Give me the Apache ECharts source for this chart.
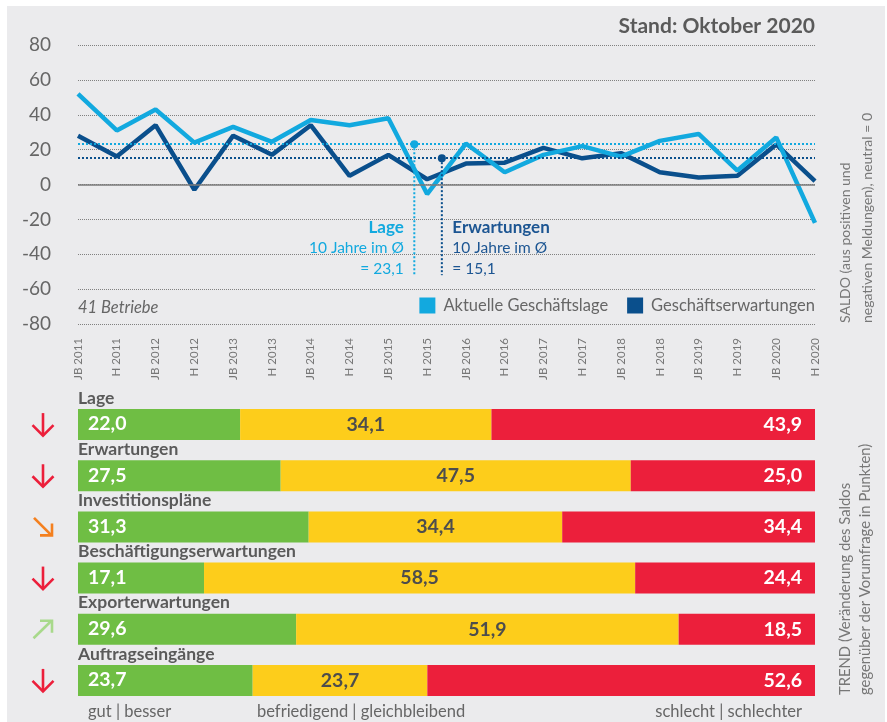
<!DOCTYPE html>
<html>
<head>
<meta charset="utf-8">
<script src="https://cdn.jsdelivr.net/npm/echarts@6/dist/echarts.min.js"></script>
<style>
  html, body { margin: 0; background: #fff; }
  #chart { width: 887px; height: 722px; }
</style>
</head>
<body>
<div id="chart"></div>
<script>
// Saldo-Verlauf (Jahresbeginn / Herbst)
const periods = ['JB 2011', 'H 2011', 'JB 2012', 'H 2012', 'JB 2013', 'H 2013', 'JB 2014', 'H 2014', 'JB 2015', 'H 2015',
  'JB 2016', 'H 2016', 'JB 2017', 'H 2017', 'JB 2018', 'H 2018', 'JB 2019', 'H 2019', 'JB 2020', 'H 2020'];
const lageSaldo = [52, 31, 43, 24, 33, 24.5, 37, 34, 38, -5.5, 23.5, 7, 17, 22, 16, 25, 29, 8, 27, -22];
const erwartungenSaldo = [28, 16, 34, -3, 28, 17, 34, 5, 17, 3, 12, 12.5, 21, 15, 18, 7, 4, 5, 23, 2];
const lageAvg = 23.1;
const erwartungenAvg = 15.1;

// Anteile in Prozent
const rows = ['Lage', 'Erwartungen', 'Investitionspläne', 'Beschäftigungserwartungen', 'Exporterwartungen', 'Auftragseingänge'];
const gut = [22.0, 27.5, 31.3, 17.1, 29.6, 23.7];
const befriedigend = [34.1, 47.5, 34.4, 58.5, 51.9, 23.7];
const schlecht = [43.9, 25.0, 34.4, 24.4, 18.5, 52.6];
const trend = ['down', 'down', 'downRight', 'down', 'upRight', 'down'];

const LIGHT = '#12a9df';
const DARK = '#0a4f8c';
const GREEN = '#6fbe44';
const YELLOW = '#fdcd1b';
const RED = '#ec1f3b';
const FONT = 'Lato';

const fmt = v => v.toFixed(1).replace('.', ',');

// Pfeilformen relativ zur Zeilenmitte
const arrowShapes = {
  down: { color: RED, lines: [[[0, -11.5], [0, 11]], [[-10.5, 0.5], [0, 11], [10.5, 0.5]]] },
  downRight: { color: '#f4801f', lines: [[[-9, -9], [8.5, 8.5]], [[-3, 8.5], [9, 8.5], [9, -3.5]]] },
  upRight: { color: '#a8d98b', lines: [[[-9.5, 9], [8.5, -8.5]], [[-3, -8.5], [9, -8.5], [9, 3.5]]] },
};

// x-Position der Ø-Markierungen (in Kategorie-Einheiten)
const lageMarkX = 8.67;
const erwMarkX = 9.38;
const markBottom = -52;

const chart = echarts.init(document.getElementById('chart'));

const baseGraphic = [
  { type: 'rect', z: -100, silent: true, shape: { x: 7, y: 6, width: 878, height: 716 }, style: { fill: '#ebebed' } },
  { type: 'text', x: 78, y: 308, style: { text: '41 Betriebe', font: `italic 16.5px ${FONT}`, fill: '#666', verticalAlign: 'middle' } },
  {
    type: 'text', x: 856, y: 323, rotation: Math.PI / 2,
    style: { text: 'SALDO (aus positiven und\nnegativen Meldungen), neutral = 0', font: `14px ${FONT}`, fill: '#777', lineHeight: 22, align: 'left', verticalAlign: 'middle' },
  },
  {
    type: 'text', x: 855, y: 695, rotation: Math.PI / 2,
    style: { text: 'TREND (Veränderung des Saldos\ngegenüber der Vorumfrage in Punkten)', font: `14.8px ${FONT}`, fill: '#777', lineHeight: 20, align: 'left', verticalAlign: 'middle' },
  },
  { type: 'text', x: 88, y: 712, style: { text: 'gut | besser', font: `16.5px ${FONT}`, fill: '#666', verticalAlign: 'middle' } },
  { type: 'text', x: 257, y: 712, style: { text: 'befriedigend | gleichbleibend', font: `16.5px ${FONT}`, fill: '#666', verticalAlign: 'middle' } },
  { type: 'text', x: 802, y: 712, style: { text: 'schlecht | schlechter', font: `16.5px ${FONT}`, fill: '#666', align: 'right', verticalAlign: 'middle' } },
];

const avgMarkLine = (value, color) => ({
  silent: true,
  symbol: ['rect', 'rect'],
  symbolSize: [[2, 9], [2, 9]],
  label: { show: false },
  itemStyle: { color },
  lineStyle: { type: 'dotted', color, width: 2 },
  data: [{ yAxis: value }],
});

const option = {
  animation: false,
  textStyle: { fontFamily: FONT },
  title: {
    text: 'Stand: Oktober 2020',
    right: 72,
    top: 16,
    padding: 0,
    textStyle: { fontFamily: FONT, fontWeight: 'bold', fontSize: 21, color: '#5a5a5a' },
  },
  legend: {
    data: ['Aktuelle Geschäftslage', 'Geschäftserwartungen'],
    right: 72,
    top: 297,
    padding: 0,
    icon: 'rect',
    itemWidth: 16,
    itemHeight: 16,
    itemGap: 19,
    selectedMode: false,
    textStyle: { fontFamily: FONT, fontSize: 16.5, color: '#666', padding: [0, 0, 0, 3] },
  },
  grid: [
    { left: 78, right: 72, top: 45, height: 279 },
    { left: 78, right: 72, top: 399, height: 307 },
  ],
  xAxis: [
    {
      type: 'category',
      gridIndex: 0,
      data: periods,
      boundaryGap: false,
      axisLine: { show: false, onZero: false },
      axisTick: { show: false },
      axisLabel: { rotate: 90, interval: 0, fontSize: 11.5, color: '#777', margin: 14 },
    },
    { type: 'value', gridIndex: 0, min: 0, max: periods.length - 1, show: false },
    { type: 'value', gridIndex: 1, min: 0, max: 100, show: false },
  ],
  yAxis: [
    {
      type: 'value',
      gridIndex: 0,
      min: -80,
      max: 80,
      interval: 20,
      axisLine: { show: false },
      axisTick: { show: false },
      axisLabel: { fontSize: 19, color: '#666', margin: 27 },
      splitLine: { lineStyle: { type: 'dotted', color: '#808080', width: 1 } },
    },
    {
      type: 'category',
      gridIndex: 1,
      data: rows,
      inverse: true,
      axisLine: { show: false },
      axisTick: { show: false },
      axisLabel: { show: false },
    },
  ],
  graphic: baseGraphic,
  series: [
    {
      name: 'Geschäftserwartungen',
      type: 'line',
      xAxisIndex: 0,
      yAxisIndex: 0,
      data: erwartungenSaldo,
      symbol: 'none',
      color: DARK,
      lineStyle: { width: 4.5, color: DARK },
      z: 3,
      markLine: avgMarkLine(erwartungenAvg, DARK),
    },
    {
      name: 'Aktuelle Geschäftslage',
      type: 'line',
      xAxisIndex: 0,
      yAxisIndex: 0,
      data: lageSaldo,
      symbol: 'none',
      color: LIGHT,
      lineStyle: { width: 4.5, color: LIGHT },
      z: 4,
      markLine: avgMarkLine(lageAvg, LIGHT),
    },
    {
      name: 'lageMark',
      type: 'line',
      xAxisIndex: 1,
      yAxisIndex: 0,
      silent: true,
      color: LIGHT,
      lineStyle: { type: 'dotted', width: 2, color: LIGHT },
      z: 5,
      markLine: {
        silent: true,
        symbol: ['none', 'none'],
        label: { show: false },
        lineStyle: { type: 'solid', color: '#7a7a7a', width: 1.5 },
        data: [{ yAxis: 0 }],
      },
      data: [
        { value: [lageMarkX, lageAvg], symbol: 'circle', symbolSize: 8 },
        {
          value: [lageMarkX, markBottom],
          symbol: 'circle',
          symbolSize: 1,
          itemStyle: { color: 'rgba(0,0,0,0)' },
          label: {
            show: true,
            position: 'left',
            distance: 10,
            offset: [0, -27],
            align: 'right',
            formatter: `{t|Lage}\n{s|10 Jahre im Ø}\n{s|= ${fmt(lageAvg)}}`,
            rich: {
              t: { fontFamily: FONT, fontWeight: 'bold', fontSize: 17, color: LIGHT, lineHeight: 21, align: 'right' },
              s: { fontFamily: FONT, fontSize: 15.5, color: LIGHT, lineHeight: 21, align: 'right' },
            },
          },
        },
      ],
    },
    {
      name: 'erwMark',
      type: 'line',
      xAxisIndex: 1,
      yAxisIndex: 0,
      silent: true,
      color: DARK,
      lineStyle: { type: 'dotted', width: 2, color: DARK },
      z: 5,
      data: [
        { value: [erwMarkX, erwartungenAvg], symbol: 'circle', symbolSize: 8 },
        {
          value: [erwMarkX, markBottom],
          symbol: 'circle',
          symbolSize: 1,
          itemStyle: { color: 'rgba(0,0,0,0)' },
          label: {
            show: true,
            position: 'right',
            distance: 10,
            offset: [0, -27],
            align: 'left',
            formatter: `{t|Erwartungen}\n{s|10 Jahre im Ø}\n{s|= ${fmt(erwartungenAvg)}}`,
            rich: {
              t: { fontFamily: FONT, fontWeight: 'bold', fontSize: 17, color: '#1c5592', lineHeight: 21 },
              s: { fontFamily: FONT, fontSize: 15.5, color: '#1c5592', lineHeight: 21 },
            },
          },
        },
      ],
    },
    {
      name: 'gut',
      type: 'bar',
      xAxisIndex: 2,
      yAxisIndex: 1,
      stack: 'anteil',
      barWidth: 31,
      silent: true,
      itemStyle: { color: GREEN },
      data: gut,
      label: {
        show: true,
        position: [0, -21.5],
        align: 'left',
        verticalAlign: 'top',
        formatter: p => `{n|${rows[p.dataIndex]}}\n{v|${fmt(p.value)}}`,
        rich: {
          n: { fontFamily: FONT, fontWeight: 'bold', fontSize: 17.5, color: '#5a5a5a', lineHeight: 21 },
          v: { fontFamily: FONT, fontWeight: 'bold', fontSize: 19.5, color: '#fff', lineHeight: 31, padding: [0, 0, 0, 10] },
        },
      },
    },
    {
      name: 'befriedigend',
      type: 'bar',
      xAxisIndex: 2,
      yAxisIndex: 1,
      stack: 'anteil',
      barWidth: 31,
      silent: true,
      itemStyle: { color: YELLOW },
      data: befriedigend,
      label: {
        show: true,
        position: 'inside',
        formatter: p => fmt(p.value),
        fontFamily: FONT,
        fontWeight: 'bold',
        fontSize: 19.5,
        color: '#4d4d4d',
      },
    },
    {
      name: 'schlecht',
      type: 'bar',
      xAxisIndex: 2,
      yAxisIndex: 1,
      stack: 'anteil',
      barWidth: 31,
      silent: true,
      itemStyle: { color: RED },
      data: schlecht,
      label: {
        show: true,
        position: 'insideRight',
        distance: 13,
        formatter: p => fmt(p.value),
        fontFamily: FONT,
        fontWeight: 'bold',
        fontSize: 19.5,
        color: '#fff',
      },
    },
  ],
};

chart.setOption(option);

// Trendpfeile links neben den Balken, Höhe aus der Kategorieachse
const arrowGraphic = trend.map((t, i) => {
  const shape = arrowShapes[t];
  return {
    type: 'group',
    x: 43,
    y: chart.convertToPixel({ yAxisIndex: 1 }, rows[i]),
    silent: true,
    children: shape.lines.map(pts => ({
      type: 'polyline',
      shape: { points: pts },
      style: { stroke: shape.color, lineWidth: 2.6, fill: null, lineJoin: 'miter', lineCap: 'butt' },
    })),
  };
});
chart.setOption({ graphic: baseGraphic.concat(arrowGraphic) });
</script>
</body>
</html>
